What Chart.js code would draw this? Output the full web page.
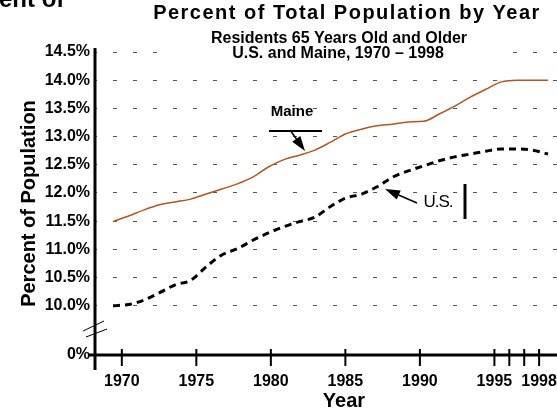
<!DOCTYPE html>
<html lang="en">
  <head>
    <meta charset="UTF-8" />
    <title>Percent of Total Population by Year</title>
    <style>
      body {
        margin: 0;
        background: #fff;
      }
      .wrap {
        width: 557px;
        height: 410px;
        position: relative;
      }
    </style>
    <script src="https://cdn.jsdelivr.net/npm/chart.js"></script>
  </head>
  <body>
    <div class="wrap"><canvas id="popChart"></canvas></div>
    <script>
      const years = [
        1970, 1971, 1972, 1973, 1974, 1975, 1976, 1977, 1978, 1979, 1980, 1981,
        1982, 1983, 1984, 1985, 1986, 1987, 1988, 1989, 1990, 1991, 1992, 1993,
        1994, 1995, 1996, 1997, 1998,
      ];
      const maine = [
        11.49, 11.59, 11.7, 11.79, 11.84, 11.89, 11.98, 12.07, 12.16, 12.28,
        12.46, 12.59, 12.67, 12.76, 12.9, 13.05, 13.13, 13.19, 13.22, 13.26,
        13.27, 13.4, 13.54, 13.7, 13.84, 13.97, 14.0, 14.0, 14.0,
      ];
      const us = [
        10.0, 10.02, 10.1, 10.23, 10.37, 10.45, 10.69, 10.9, 11.01, 11.16,
        11.29, 11.4, 11.49, 11.57, 11.76, 11.91, 11.98, 12.11, 12.28, 12.39,
        12.48, 12.57, 12.64, 12.69, 12.74, 12.78, 12.78, 12.76, 12.69,
      ];
      const yTicks = [0, 10.0, 10.5, 11.0, 11.5, 12.0, 12.5, 13.0, 13.5, 14.0, 14.5];
      const xTicks = [1970, 1975, 1980, 1985, 1990, 1995, 1996, 1997, 1998];
      const xLabels = ["1970", "1975", "1980", "1985", "1990", "1995", "", "", "1998"];

      // the axis is broken between 0% and 10%: 0% sits at this value
      const Y_BREAK = 9.125;
      const FONT = '"Liberation Sans", Arial, sans-serif';

      function arrow(ctx, x1, y1, x2, y2, head, width) {
        const a = Math.atan2(y2 - y1, x2 - x1);
        const c = Math.cos(a), s = Math.sin(a);
        ctx.beginPath();
        ctx.moveTo(x1, y1);
        ctx.lineTo(x2 - c * head * 0.7, y2 - s * head * 0.7);
        ctx.stroke();
        ctx.beginPath();
        ctx.moveTo(x2, y2);
        ctx.lineTo(x2 - head * c + (width / 2) * s, y2 - head * s - (width / 2) * c);
        ctx.lineTo(x2 - head * c - (width / 2) * s, y2 - head * s + (width / 2) * c);
        ctx.closePath();
        ctx.fill();
      }

      const decorations = {
        id: "decorations",
        afterDraw(chart) {
          const { ctx, chartArea: a, scales } = chart;
          const x = scales.x;
          ctx.save();
          ctx.strokeStyle = "#000";
          ctx.fillStyle = "#000";

          // axes crossing each other
          ctx.lineWidth = 3;
          ctx.beginPath();
          ctx.moveTo(a.left - 7, a.bottom);
          ctx.lineTo(a.right, a.bottom);
          ctx.stroke();
          ctx.beginPath();
          ctx.moveTo(a.left, a.top - 4);
          ctx.lineTo(a.left, a.bottom + 15);
          ctx.stroke();

          // year ticks through the axis
          ctx.lineWidth = 2;
          x.ticks.forEach((t) => {
            const px = x.getPixelForValue(t.value);
            ctx.beginPath();
            ctx.moveTo(px, a.bottom - 6);
            ctx.lineTo(px, a.bottom + 11);
            ctx.stroke();
          });

          // break marks
          ctx.lineWidth = 1;
          ctx.beginPath();
          ctx.moveTo(a.left - 12, a.bottom - 24);
          ctx.lineTo(a.left + 9, a.bottom - 34);
          ctx.moveTo(a.left - 9, a.bottom - 18);
          ctx.lineTo(a.left + 12, a.bottom - 26);
          ctx.stroke();

          // cropped heading text at the very top
          ctx.font = "bold 24px " + FONT;
          ctx.textAlign = "left";
          ctx.textBaseline = "alphabetic";
          ctx.fillText("ent of", -1, 7);

          // titles
          ctx.fillStyle = "#fff";
          ctx.fillRect(165, 24, 342, 34);
          ctx.fillStyle = "#000";
          ctx.textAlign = "center";
          ctx.letterSpacing = "1.5px";
          ctx.font = "bold 20px " + FONT;
          ctx.fillText("Percent of Total Population by Year", 347, 19);
          ctx.letterSpacing = "0px";
          ctx.font = "bold 16px " + FONT;
          ctx.fillText("Residents 65 Years Old and Older", 339, 43);
          ctx.fillText("U.S. and Maine, 1970 \u2013 1998", 338, 58);

          ctx.font = "bold 20px " + FONT;
          ctx.fillText("Year", 344, 407);

          // Maine label
          ctx.font = "bold 15px " + FONT;
          ctx.fillText("Maine", 292, 116);
          ctx.lineWidth = 2;
          ctx.beginPath();
          ctx.moveTo(269, 131);
          ctx.lineTo(322, 131);
          ctx.stroke();
          ctx.lineWidth = 1.5;
          arrow(ctx, 290, 130, 305, 151, 15, 10);

          // U.S. label
          ctx.font = "17px " + FONT;
          ctx.letterSpacing = "-1px";
          ctx.fillText("U.S.", 438, 207);
          ctx.letterSpacing = "0px";
          ctx.lineWidth = 1.5;
          arrow(ctx, 417, 203, 385, 189, 15, 10);
          ctx.lineWidth = 3;
          ctx.beginPath();
          ctx.moveTo(465, 184);
          ctx.lineTo(465, 219);
          ctx.stroke();

          ctx.restore();
        },
      };

      new Chart(document.getElementById("popChart").getContext("2d"), {
        type: "line",
        data: {
          datasets: [
            {
              label: "Maine",
              data: years.map((yr, i) => ({ x: yr, y: maine[i] })),
              xAxisID: "xd",
              borderColor: "#b4561f",
              borderWidth: 1.5,
              pointRadius: 0,
              cubicInterpolationMode: "monotone",
              fill: false,
            },
            {
              label: "U.S.",
              data: years.map((yr, i) => ({ x: yr, y: us[i] })),
              xAxisID: "xd",
              borderColor: "#000",
              borderWidth: 3,
              borderDash: [7, 5],
              pointRadius: 0,
              cubicInterpolationMode: "monotone",
              fill: false,
            },
          ],
        },
        options: {
          responsive: true,
          maintainAspectRatio: false,
          animation: false,
          layout: { padding: { top: 52, left: 0, right: 0, bottom: 0 } },
          plugins: {
            legend: { display: false },
            tooltip: { enabled: false },
          },
          scales: {
            x: {
              type: "linear",
              min: 1968.2,
              max: 1999.2,
              afterBuildTicks: (scale) => {
                scale.ticks = xTicks.map((v) => ({ value: v }));
              },
              afterFit: (scale) => {
                scale.height = 55;
                scale.paddingLeft = 0;
                scale.paddingRight = 0;
              },
              ticks: {
                autoSkip: false,
                maxRotation: 0,
                padding: 17,
                color: "#000",
                font: { family: FONT, size: 16, weight: "bold" },
                callback: (v) => xLabels[xTicks.indexOf(v)] ?? "",
              },
              grid: { display: false, drawTicks: false },
              border: { display: false },
            },
            xd: {
              type: "linear",
              display: false,
              min: 1968.84,
              max: 1998.58,
            },
            y: {
              min: Y_BREAK,
              max: 14.5,
              afterBuildTicks: (scale) => {
                scale.ticks = yTicks.map((v) => ({ value: v === 0 ? Y_BREAK : v }));
              },
              afterFit: (scale) => {
                scale.width = 95;
              },
              ticks: {
                autoSkip: false,
                padding: 5,
                color: "#000",
                font: { family: FONT, size: 16, weight: "bold" },
                callback: (v) => (v === Y_BREAK ? "0%" : v.toFixed(1) + "%"),
              },
              grid: {
                drawTicks: false,
                lineWidth: 1,
                color: (c) => (c.tick && c.tick.value >= 10 ? "#555" : "transparent"),
              },
              border: { display: false, dash: [4, 16], dashOffset: 2 },
              title: {
                display: true,
                text: "Percent of Population",
                color: "#000",
                font: { family: FONT, size: 20, weight: "bold" },
                padding: { top: 17, bottom: 0 },
              },
            },
          },
        },
        plugins: [decorations],
      });
    </script>
  </body>
</html>
